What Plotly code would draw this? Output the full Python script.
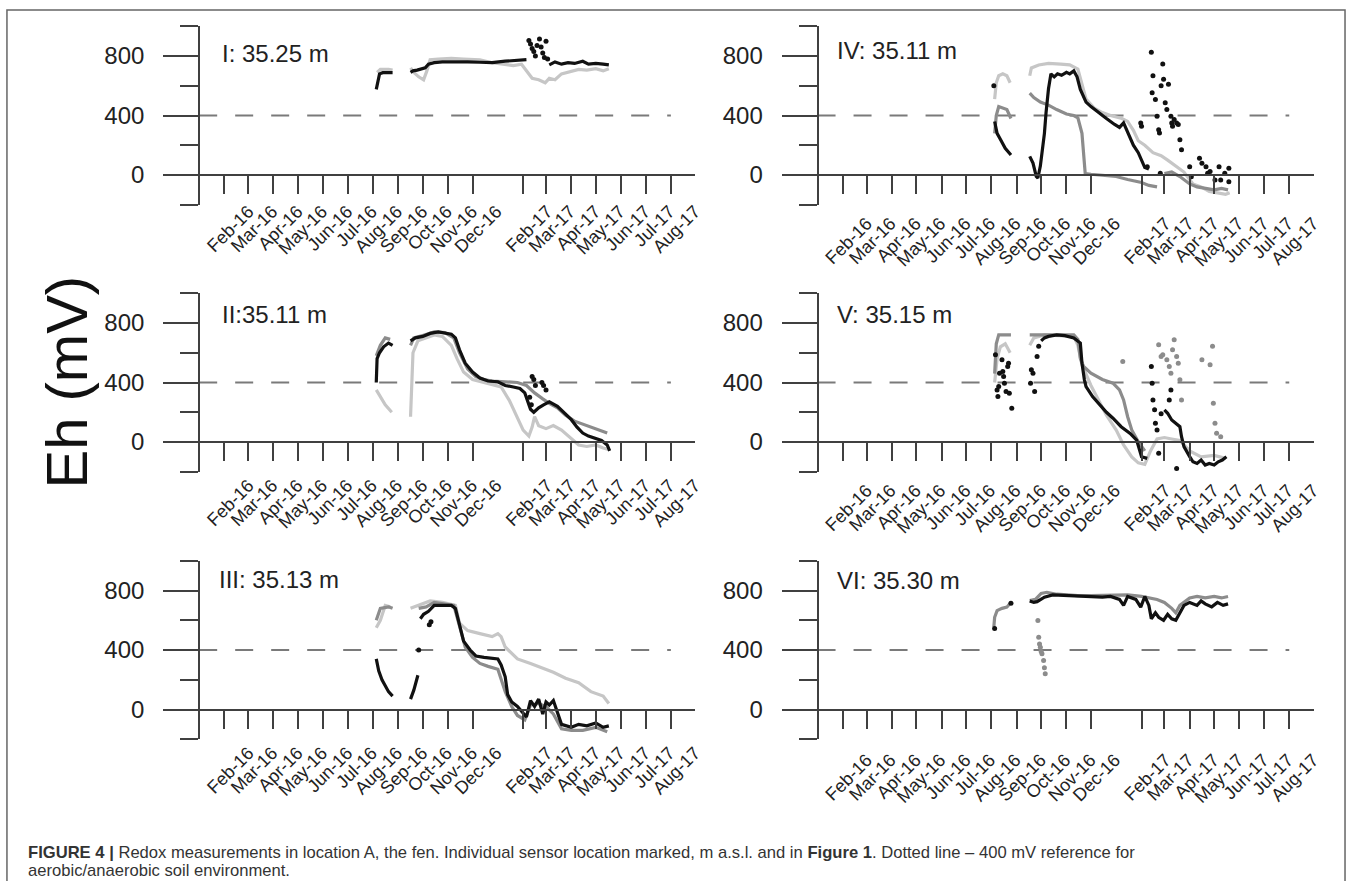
import plotly.graph_objects as go

W, H = 1357, 881

# ---------------- tick labels ----------------
tick_dates = ["2016-02-01", "2016-03-01", "2016-04-01", "2016-05-01", "2016-06-01", "2016-07-01",
              "2016-08-01", "2016-09-01", "2016-10-01", "2016-11-01", "2016-12-01",
              "2017-02-01", "2017-03-01", "2017-04-01", "2017-05-01", "2017-06-01", "2017-07-01",
              "2017-08-01"]
tick_text = ["Feb-16", "Mar-16", "Apr-16", "May-16", "Jun-16", "Jul-16", "Aug-16", "Sep-16",
             "Oct-16", "Nov-16", "Dec-16", "Feb-17", "Mar-17", "Apr-17", "May-17", "Jun-17",
             "Jul-17", "Aug-17"]
y_major = [0, 400, 800]
y_minor = [-200, 200, 600, 1000]
panel_titles = ["I: 35.25 m", "II:35.11 m", "III: 35.13 m", "IV: 35.11 m", "V: 35.15 m", "VI: 35.30 m"]

# ---------------- Panel I ----------------
I_blk_d = ["2016-08-05", "2016-08-07", "2016-08-09", "2016-08-13", "2016-08-19", "2016-08-25", "2016-09-05",
           "2016-09-16", "2016-09-19", "2016-09-24", "2016-09-30", "2016-10-04", "2016-10-08", "2016-10-15",
           "2016-10-25", "2016-11-10", "2016-11-25", "2016-12-10", "2016-12-25", "2017-01-10", "2017-01-25",
           "2017-02-05", "2017-02-20", "2017-03-05", "2017-03-12", "2017-03-20", "2017-03-28", "2017-04-05",
           "2017-04-15", "2017-04-22", "2017-05-01", "2017-05-10", "2017-05-17"]
I_blk_v = [576, 640, 680, 688, 690, 688, None, 690, 700, 705, 715, 720, 745, 755, 760, 762, 760, 758, 755,
           765, 770, 775, None, 740, 760, 745, 755, 750, 765, 745, 750, 745, 740]
I_blk_sc_d = ["2017-02-08", "2017-02-10", "2017-02-12", "2017-02-14", "2017-02-16", "2017-02-18",
              "2017-02-21", "2017-02-23", "2017-02-25", "2017-02-27", "2017-03-01", "2017-03-03"]
I_blk_sc_v = [905, 880, 850, 830, 800, 870, 915, 860, 820, 790, 900, 780]
I_lgt_d = ["2016-08-06", "2016-08-10", "2016-08-20", "2016-08-25", "2016-09-05", "2016-09-16", "2016-09-20",
           "2016-09-26", "2016-10-02", "2016-10-06", "2016-10-10", "2016-10-20", "2016-11-05", "2016-11-20",
           "2016-12-10", "2016-12-25", "2017-01-10", "2017-01-20", "2017-01-30", "2017-02-05", "2017-02-12",
           "2017-02-20", "2017-02-28", "2017-03-05", "2017-03-12", "2017-03-20", "2017-04-01", "2017-04-10",
           "2017-04-20", "2017-05-01", "2017-05-10", "2017-05-17"]
I_lgt_v = [690, 710, 710, 705, None, 720, 690, 660, 640, 700, 775, 780, 785, 780, 775, 755, 740, 735, 745,
           700, 650, 640, 620, 650, 640, 680, 700, 710, 705, 715, 700, 715]

# ---------------- Panel II ----------------
II_blk_d = ["2016-08-05", "2016-08-06", "2016-08-09", "2016-08-14", "2016-08-20", "2016-08-25", "2016-09-05",
            "2016-09-16", "2016-09-22", "2016-10-01", "2016-10-10", "2016-10-20", "2016-10-28", "2016-11-05",
            "2016-11-10", "2016-11-15", "2016-11-22", "2016-12-01", "2016-12-10", "2016-12-20", "2017-01-01",
            "2017-01-10", "2017-01-20", "2017-01-28", "2017-02-03", "2017-02-07", "2017-02-10", "2017-02-14",
            "2017-02-20", "2017-02-26", "2017-03-05", "2017-03-15", "2017-03-22", "2017-04-01", "2017-04-08",
            "2017-04-15", "2017-04-22", "2017-05-01", "2017-05-08", "2017-05-15", "2017-05-18"]
II_blk_v = [400, 560, 600, 640, 665, 650, None, 680, 700, 710, 730, 740, 735, 725, 700, 620, 530, 470, 430,
            410, 405, 380, 370, 360, 330, 260, 220, 200, 230, 250, 270, 240, 200, 150, 100, 60, 40, 20, 10,
            -20, -60]
II_blk_sc_d = ["2017-02-09", "2017-02-11", "2017-02-12", "2017-02-14", "2017-02-16", "2017-02-24",
               "2017-02-26", "2017-03-01"]
II_blk_sc_v = [300, 250, 440, 420, 380, 400, 380, 350]
II_mid_d = ["2016-08-05", "2016-08-10", "2016-08-16", "2016-08-22", "2016-09-05", "2016-09-16", "2016-09-20",
            "2016-10-01", "2016-10-15", "2016-10-28", "2016-11-08", "2016-11-15", "2016-11-25", "2016-12-05",
            "2016-12-15", "2016-12-25", "2017-01-10", "2017-01-25", "2017-02-05", "2017-02-15", "2017-02-25",
            "2017-03-05", "2017-03-15", "2017-03-25", "2017-04-05", "2017-04-15", "2017-04-25", "2017-05-05",
            "2017-05-15"]
II_mid_v = [580, 650, 700, 690, None, 650, 700, 715, 740, 735, 700, 600, 490, 440, 420, 410, 405, 400, 380,
            330, 290, 260, 230, 180, 140, 120, 100, 80, 60]
II_lgt_d = ["2016-08-05", "2016-08-10", "2016-08-16", "2016-08-24", "2016-09-05", "2016-09-16", "2016-09-19",
            "2016-09-25", "2016-10-05", "2016-10-15", "2016-10-25", "2016-11-05", "2016-11-12", "2016-11-20",
            "2016-12-01", "2016-12-15", "2016-12-25", "2017-01-05", "2017-01-15", "2017-01-25", "2017-02-01",
            "2017-02-08", "2017-02-12", "2017-02-15", "2017-02-20", "2017-03-01", "2017-03-10", "2017-03-20",
            "2017-04-01", "2017-04-10", "2017-04-20", "2017-05-01", "2017-05-10", "2017-05-17"]
II_lgt_v = [350, 300, 250, 200, None, 170, 600, 680, 700, 720, 710, 650, 560, 470, 420, 400, 390, 370, 280,
            160, 80, 40, 100, 170, 110, 90, 110, 80, 20, -20, -30, -20, -40, -50]

# ---------------- Panel III ----------------
III_blk_d = ["2016-08-05", "2016-08-08", "2016-08-12", "2016-08-16", "2016-08-20", "2016-08-25", "2016-09-05",
             "2016-09-16", "2016-09-20", "2016-09-25", "2016-09-26", "2016-09-28", "2016-10-02", "2016-10-08",
             "2016-10-15", "2016-10-25", "2016-11-05", "2016-11-10", "2016-11-15", "2016-11-20", "2016-11-28",
             "2016-12-05", "2016-12-15", "2016-12-25", "2017-01-01", "2017-01-05", "2017-01-10", "2017-01-13",
             "2017-01-18", "2017-01-25", "2017-02-01", "2017-02-05", "2017-02-10", "2017-02-15", "2017-02-20",
             "2017-02-25", "2017-03-01", "2017-03-05", "2017-03-10", "2017-03-15", "2017-03-20", "2017-04-01",
             "2017-04-10", "2017-04-20", "2017-05-01", "2017-05-10", "2017-05-17"]
III_blk_v = [340, 260, 200, 160, 120, 90, None, 70, 130, 230, None, 610, 640, 660, 700, 700, 700, 680, 560,
             460, 400, 360, 350, 345, 340, 300, 220, 100, 50, 20, -30, -50, 60, 20, 70, -30, 50, 30, 60, -20,
             -100, -120, -100, -110, -90, -120, -110]
III_blk_sc_d = ["2016-09-26", "2016-10-09", "2016-10-11"]
III_blk_sc_v = [400, 570, 590]
III_mid_d = ["2016-08-05", "2016-08-10", "2016-08-20", "2016-08-25", "2016-09-05", "2016-09-26", "2016-10-05",
             "2016-10-15", "2016-10-25", "2016-11-08", "2016-11-15", "2016-11-22", "2016-12-01", "2016-12-10",
             "2016-12-20", "2017-01-01", "2017-01-10", "2017-01-18", "2017-01-25", "2017-02-03", "2017-02-10",
             "2017-02-20", "2017-03-01", "2017-03-10", "2017-03-20", "2017-04-01", "2017-04-15", "2017-05-01",
             "2017-05-15"]
III_mid_v = [600, 680, 690, 680, None, 680, 690, 720, 710, 700, 560, 420, 350, 310, 290, 270, 120, 20, -40,
             -70, 30, 40, 20, -30, -130, -140, -140, -120, -150]
III_lgt_d = ["2016-08-05", "2016-08-10", "2016-08-16", "2016-08-22", "2016-09-05", "2016-09-16", "2016-09-25",
             "2016-10-10", "2016-10-25", "2016-11-10", "2016-11-15", "2016-11-25", "2016-12-10", "2016-12-25",
             "2017-01-01", "2017-01-05", "2017-01-10", "2017-01-25", "2017-02-10", "2017-02-25", "2017-03-10",
             "2017-03-25", "2017-04-10", "2017-04-25", "2017-05-10", "2017-05-17"]
III_lgt_v = [550, 600, 700, 690, None, 680, 700, 730, 720, 700, 580, 530, 510, 490, 510, 490, 420, 340, 310,
             280, 250, 210, 180, 120, 90, 40]

# ---------------- Panel IV ----------------
IV_blk_d = ["2016-08-05", "2016-08-08", "2016-08-12", "2016-08-18", "2016-08-25", "2016-09-05", "2016-09-17",
            "2016-09-21", "2016-09-25", "2016-09-27", "2016-09-30", "2016-10-02", "2016-10-05", "2016-10-07",
            "2016-10-10", "2016-10-13", "2016-10-17", "2016-10-21", "2016-10-26", "2016-11-01", "2016-11-05",
            "2016-11-10", "2016-11-14", "2016-11-18", "2016-11-25", "2016-12-01", "2016-12-10", "2016-12-20",
            "2016-12-30", "2017-01-05", "2017-01-10", "2017-01-15", "2017-01-22", "2017-01-28", "2017-02-05",
            "2017-02-10"]
IV_blk_v = [360, 280, 240, 180, 135, None, 125, 80, -10, -20, 60, 150, 280, 420, 580, 680, 660, 680, 670,
            690, 680, 700, 660, 575, 490, 460, 420, 380, 340, 320, 350, 290, 200, 150, 50, 40]
IV_blk_sc_d = ["2016-08-04", "2017-01-31", "2017-02-01", "2017-02-08", "2017-02-13", "2017-02-14", "2017-02-15",
               "2017-02-18", "2017-02-20", "2017-02-22", "2017-02-23", "2017-02-24", "2017-02-25", "2017-02-27",
               "2017-02-28", "2017-03-02", "2017-03-04", "2017-03-06", "2017-03-09", "2017-03-10", "2017-03-11",
               "2017-03-13", "2017-03-16", "2017-03-18", "2017-03-20", "2017-03-22", "2017-04-01", "2017-04-03",
               "2017-04-13", "2017-04-16", "2017-04-21", "2017-04-23", "2017-04-26", "2017-05-02", "2017-05-07",
               "2017-05-09", "2017-05-14", "2017-05-19", "2017-05-19"]
IV_blk_sc_v = [600, 350, 328, 56, 825, 553, 667, 508, 395, 305, 282, 11, 600, 746, 644, 486, 440, 610, 395,
               350, 328, 373, 350, 339, 237, 170, 56, -11, 113, 79, 56, 11, 23, -34, 56, -34, 11, 45, -45]
IV_mid_d = ["2016-08-05", "2016-08-07", "2016-08-10", "2016-08-15", "2016-08-20", "2016-08-25", "2016-09-05",
            "2016-09-17", "2016-09-22", "2016-09-30", "2016-10-10", "2016-10-20", "2016-11-01", "2016-11-10",
            "2016-11-15", "2016-11-20", "2016-11-22", "2016-11-24", "2016-12-01", "2016-12-15", "2017-01-01",
            "2017-01-15", "2017-02-01", "2017-02-10", "2017-02-20", "2017-02-23", "2017-03-01", "2017-03-10",
            "2017-03-20", "2017-04-01", "2017-04-10", "2017-04-20", "2017-05-01", "2017-05-10", "2017-05-18"]
IV_mid_v = [280, 400, 460, 450, 440, 380, None, 550, 520, 490, 470, 440, 410, 400, 385, 280, 150, 10, 5, 0,
            -10, -30, -50, -70, -80, None, 10, 20, -10, -60, -80, -90, -100, -90, -100]
IV_lgt_d = ["2016-08-05", "2016-08-07", "2016-08-10", "2016-08-15", "2016-08-20", "2016-08-24", "2016-09-05",
            "2016-09-17", "2016-09-19", "2016-09-28", "2016-10-10", "2016-10-25", "2016-11-05", "2016-11-15",
            "2016-11-20", "2016-11-25", "2016-12-05", "2016-12-15", "2016-12-25", "2017-01-01", "2017-01-08",
            "2017-01-15", "2017-01-22", "2017-01-28", "2017-02-05", "2017-02-15", "2017-02-25", "2017-03-05",
            "2017-03-15", "2017-03-25", "2017-04-05", "2017-04-15", "2017-04-25", "2017-05-05", "2017-05-15",
            "2017-05-20"]
IV_lgt_v = [510, 620, 667, 680, 667, 620, None, 667, 720, 740, 750, 745, 740, 712, 600, 510, 450, 420, 400,
            390, 380, 360, 300, 230, 200, 150, 130, 100, 60, 20, -60, -80, -110, -120, -130, -120]

# ---------------- Panel V ----------------
V_blk_d = ["2016-10-01", "2016-10-05", "2016-10-10", "2016-10-20", "2016-10-30", "2016-11-10", "2016-11-18",
           "2016-11-20", "2016-11-23", "2016-11-25", "2016-12-03", "2016-12-10", "2016-12-20", "2016-12-28",
           "2017-01-07", "2017-01-18", "2017-01-26", "2017-02-01", "2017-02-08", "2017-02-14", "2017-03-01",
           "2017-03-05", "2017-03-10", "2017-03-15", "2017-03-20", "2017-03-22", "2017-03-25", "2017-04-01",
           "2017-04-05", "2017-04-10", "2017-04-15", "2017-04-20", "2017-04-25", "2017-05-01", "2017-05-06",
           "2017-05-11", "2017-05-16"]
V_blk_v = [680, 700, 710, 720, 715, 700, 665, 530, 418, 373, 305, 260, 200, 160, 103, 58, 13, -99, -110,
           None, 216, 193, 148, 126, 103, 36, -31, -99, -133, -144, -121, -155, -144, -155, -133, -121, -99]
V_blk_sc_d = ["2016-08-06", "2016-08-08", "2016-08-09", "2016-08-10", "2016-08-11", "2016-08-14", "2016-08-15",
              "2016-08-16", "2016-08-17", "2016-08-19", "2016-08-21", "2016-08-22", "2016-08-23", "2016-08-26",
              "2016-09-18", "2016-09-19", "2016-09-21", "2016-09-23", "2016-09-26", "2016-09-28",
              "2017-02-13", "2017-02-14", "2017-02-15", "2017-02-17", "2017-02-18", "2017-02-20", "2017-02-22",
              "2017-02-25", "2017-03-07", "2017-03-09", "2017-03-16"]
V_blk_sc_v = [586, 350, 306, 373, 463, 553, 474, 440, 395, 339, 508, 530, 328, 227,
              395, 485, 463, 339, 575, 643,
              508, 395, 283, 216, 126, 81, -76, 190, 283, 350, -178]
V_mid_d = ["2016-08-05", "2016-08-07", "2016-08-10", "2016-08-25", "2016-09-05", "2016-09-17", "2016-10-01",
           "2016-10-15", "2016-11-01", "2016-11-10", "2016-11-15", "2016-11-18", "2016-11-22", "2016-12-01",
           "2016-12-15", "2016-12-28", "2017-01-05", "2017-01-10", "2017-01-15", "2017-01-20", "2017-01-28",
           "2017-02-05"]
V_mid_v = [460, 660, 720, 720, None, 720, 720, 720, 720, 720, 690, 560, 508, 463, 420, 395, 350, 283, 170,
           81, 2, -60]
V_mid_sc_d = ["2017-01-09", "2017-02-22", "2017-02-25", "2017-02-27", "2017-03-04", "2017-03-07", "2017-03-09",
              "2017-03-11", "2017-03-13", "2017-03-16", "2017-03-18", "2017-03-20", "2017-03-22", "2017-04-16",
              "2017-04-26", "2017-04-29", "2017-04-30", "2017-05-02", "2017-05-04", "2017-05-09"]
V_mid_sc_v = [541, 654, 575, 586, 553, 508, 463, 620, 688, 575, 530, 418, 283, 553, 519, 643, 261, 126, 58, 36]
V_lgt_d = ["2016-08-05", "2016-08-08", "2016-08-12", "2016-08-18", "2016-08-24", "2016-09-05", "2016-09-17",
           "2016-09-22", "2016-10-05", "2016-11-10", "2016-11-15", "2016-11-20", "2016-12-01", "2016-12-10",
           "2016-12-20", "2017-01-01", "2017-01-10", "2017-01-20", "2017-01-28", "2017-02-05", "2017-02-12",
           "2017-02-20", "2017-03-01", "2017-03-10", "2017-03-20", "2017-04-01", "2017-04-15", "2017-05-01",
           "2017-05-15"]
V_lgt_v = [400, 560, 640, 660, 600, None, 650, 700, 720, 710, 650, 520, 380, 280, 180, 80, -20, -100, -140,
           -150, -60, 20, 30, 20, 10, -60, -100, -90, -110]

# ---------------- Panel VI ----------------
VI_blk_d = ["2016-09-17", "2016-09-22", "2016-09-26", "2016-10-01", "2016-10-05", "2016-10-15", "2016-11-01",
            "2016-11-15", "2016-12-01", "2016-12-15", "2016-12-25", "2017-01-05", "2017-01-10", "2017-01-15",
            "2017-01-25", "2017-01-31", "2017-02-05", "2017-02-10", "2017-02-13", "2017-02-18", "2017-02-22",
            "2017-02-28", "2017-03-05", "2017-03-10", "2017-03-15", "2017-03-20", "2017-03-25", "2017-04-01",
            "2017-04-10", "2017-04-15", "2017-04-20", "2017-04-28", "2017-05-05", "2017-05-12", "2017-05-18"]
VI_blk_v = [730, 720, 725, 740, 755, 770, 765, 760, 755, 755, 760, 740, 700, 760, 740, 688, 760, 700, 610,
            650, 620, 600, 640, 610, 600, 650, 700, 720, 700, 730, 710, 690, 720, 700, 710]
VI_blk_sc_d = ["2016-08-05", "2016-08-25"]
VI_blk_sc_v = [545, 715]
VI_mid_d = ["2016-08-04", "2016-08-05", "2016-08-08", "2016-08-14", "2016-08-20", "2016-08-25", "2016-09-05",
            "2016-09-17", "2016-09-24", "2016-10-01", "2016-10-08", "2016-10-20", "2016-11-01", "2016-11-15",
            "2016-12-01", "2016-12-15", "2017-01-01", "2017-01-15", "2017-02-01", "2017-02-10", "2017-02-20",
            "2017-03-01", "2017-03-10", "2017-03-15", "2017-03-20", "2017-04-01", "2017-04-10", "2017-04-20",
            "2017-05-01", "2017-05-10", "2017-05-18"]
VI_mid_v = [553, 620, 665, 680, 688, 721, None, 732, 740, 780, 788, 775, 770, 765, 765, 765, 770, 770, 760,
            750, 740, 720, 680, 650, 700, 750, 760, 750, 760, 750, 760]
VI_mid_sc_d = ["2016-09-27", "2016-09-28", "2016-09-29", "2016-09-30", "2016-10-01", "2016-10-02", "2016-10-04",
               "2016-10-05", "2016-10-06"]
VI_mid_sc_v = [598, 486, 440, 419, 390, 374, 329, 280, 240]

caption_lines = [
    "<b>FIGURE 4 |</b> Redox measurements in location A, the fen. Individual sensor location marked, "
    "m a.s.l. and in <b>Figure 1</b>. Dotted line \u2013 400 mV reference for",
    "aerobic/anaerobic soil environment.",
]

# ---------------- styling / layout geometry ----------------
BLACK, MID, LIGHT = "#111111", "#8c8c8c", "#c6c6c6"
AXC = "#404040"
FONT = "Liberation Sans, Arial, sans-serif"
XRANGE = ["2015-11-20", "2017-08-31"]
YRANGE = [-200, 1000]

col_px = [(166, 700), (788.5, 1322.5)]   # x-domain in pixels
yaxis_px = [200.5, 823.0]                 # Jan-16 (y axis position)
row_px = [(26.25, 204.75), (293.25, 471.75), (560.75, 739.25)]
zero_px = [175.0, 442.0, 709.5]
title_px = [(221, 53.5), (221, 314.5), (218, 579.5), (840.5, 51), (840.5, 314.5), (840.5, 580)]
label_standoff = [0, 7, 7, 12, 12, 14]
caption_y_px = [852.5, 870]

def px_x(p):
    return p / W

def px_y(p):
    return 1 - p / H

series = [
    [(I_lgt_d, I_lgt_v, LIGHT, "lines"), (I_blk_d, I_blk_v, BLACK, "lines"),
     (I_blk_sc_d, I_blk_sc_v, BLACK, "markers")],
    [(II_lgt_d, II_lgt_v, LIGHT, "lines"), (II_mid_d, II_mid_v, MID, "lines"),
     (II_blk_d, II_blk_v, BLACK, "lines"), (II_blk_sc_d, II_blk_sc_v, BLACK, "markers")],
    [(III_lgt_d, III_lgt_v, LIGHT, "lines"), (III_mid_d, III_mid_v, MID, "lines"),
     (III_blk_d, III_blk_v, BLACK, "lines"), (III_blk_sc_d, III_blk_sc_v, BLACK, "markers")],
    [(IV_lgt_d, IV_lgt_v, LIGHT, "lines"), (IV_mid_d, IV_mid_v, MID, "lines"),
     (IV_blk_d, IV_blk_v, BLACK, "lines"), (IV_blk_sc_d, IV_blk_sc_v, BLACK, "markers")],
    [(V_lgt_d, V_lgt_v, LIGHT, "lines"), (V_mid_d, V_mid_v, MID, "lines"),
     (V_mid_sc_d, V_mid_sc_v, MID, "markers"), (V_blk_d, V_blk_v, BLACK, "lines"),
     (V_blk_sc_d, V_blk_sc_v, BLACK, "markers")],
    [(VI_mid_d, VI_mid_v, MID, "lines"), (VI_mid_sc_d, VI_mid_sc_v, MID, "markers"),
     (VI_blk_d, VI_blk_v, BLACK, "lines"), (VI_blk_sc_d, VI_blk_sc_v, BLACK, "markers")],
]

fig = go.Figure()
layout = dict(width=W, height=H, margin=dict(l=0, r=0, t=0, b=0), paper_bgcolor="white",
              plot_bgcolor="rgba(0,0,0,0)", showlegend=False, font=dict(family=FONT, color="#222"))
shapes, annotations = [], []

for k in range(6):
    col, row = k // 3, k % 3
    sfx = "" if k == 0 else str(k + 1)
    xa, ya = "x" + sfx, "y" + sfx
    for d, v, c, mode in series[k]:
        if mode == "lines":
            fig.add_trace(go.Scatter(x=d, y=v, mode="lines", line=dict(color=c, width=3.2),
                                     connectgaps=False, xaxis=xa, yaxis=ya, hoverinfo="skip"))
        else:
            fig.add_trace(go.Scatter(x=d, y=v, mode="markers", marker=dict(color=c, size=5),
                                     xaxis=xa, yaxis=ya, hoverinfo="skip"))
    xl, xr = col_px[col]
    yt, yb = row_px[row]
    layout["xaxis" + sfx] = dict(
        type="date", domain=[px_x(xl), px_x(xr)], range=XRANGE, anchor="free",
        position=px_y(zero_px[row]), showline=True, linecolor=AXC, linewidth=2,
        ticks="outside", ticklen=18, tickwidth=2, tickcolor=AXC,
        tickmode="array", tickvals=tick_dates, ticktext=tick_text, tickangle=-45,
        tickfont=dict(size=18, family=FONT, color="#222"), ticklabelshift=24,
        ticklabelstandoff=label_standoff[k], showgrid=False, zeroline=False, fixedrange=True)
    layout["yaxis" + sfx] = dict(
        domain=[px_y(yb), px_y(yt)], range=YRANGE, anchor="free", position=px_x(yaxis_px[col]),
        side="left", showline=True, linecolor=AXC, linewidth=2,
        ticks="outside", ticklen=35, tickwidth=2, tickcolor=AXC,
        tickmode="array", tickvals=y_major, ticktext=[str(t) for t in y_major],
        tickfont=dict(size=24, family=FONT, color="#222"), ticklabelstandoff=14,
        minor=dict(tickmode="array", tickvals=y_minor, ticks="outside", ticklen=18, tickwidth=2,
                   tickcolor=AXC, showgrid=False),
        showgrid=False, zeroline=False, fixedrange=True)
    shapes.append(dict(type="line", xref=xa, yref=ya, x0="2016-01-01", x1="2017-08-01", y0=400, y1=400,
                       line=dict(color="#7a7a7a", width=2, dash="18px,18px"), layer="below"))
    tx, ty = title_px[k]
    annotations.append(dict(text=panel_titles[k], xref="paper", yref="paper", x=px_x(tx), y=px_y(ty),
                            xanchor="left", yanchor="middle", showarrow=False,
                            font=dict(size=24, family=FONT, color="#222")))

annotations.append(dict(text="Eh (mV)", xref="paper", yref="paper", x=px_x(67), y=px_y(382),
                        xanchor="center", yanchor="middle", textangle=-90, showarrow=False,
                        font=dict(size=58, family=FONT, color="#111")))
for line_text, cy in zip(caption_lines, caption_y_px):
    annotations.append(dict(text=line_text, xref="paper", yref="paper", x=px_x(27), y=px_y(cy),
                            xanchor="left", yanchor="middle", align="left", showarrow=False,
                            borderpad=0, font=dict(size=16.6, family=FONT, color="#333")))
shapes.append(dict(type="rect", xref="paper", yref="paper", x0=px_x(7), x1=px_x(1354),
                   y0=px_y(890), y1=px_y(10), line=dict(color="#666", width=1.5), layer="above"))

layout["shapes"] = shapes
layout["annotations"] = annotations
fig.update_layout(**layout)
fig.write_html("out.html", config={"displayModeBar": False},
               post_script="document.body.style.margin='0';document.body.style.overflow='hidden';")
